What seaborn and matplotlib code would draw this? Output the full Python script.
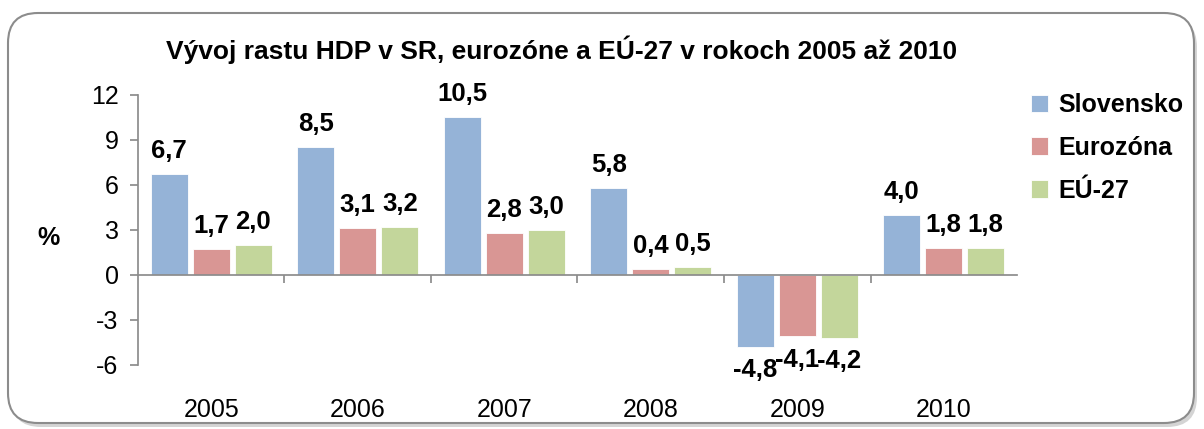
import pandas as pd
import matplotlib.pyplot as plt
import matplotlib.patches as mpatches
import matplotlib.transforms as mtransforms
import seaborn as sns

# ── Data ──────────────────────────────────────────────────────
roky = ['2005', '2006', '2007', '2008', '2009', '2010']
slovensko = [6.7, 8.5, 10.5, 5.8, -4.8, 4.0]
eurozona = [1.7, 3.1, 2.8, 0.4, -4.1, 1.8]
eu27 = [2.0, 3.2, 3.0, 0.5, -4.2, 1.8]
serie = ['Slovensko', 'Eurozóna', 'EÚ-27']
yticks = [-6, -3, 0, 3, 6, 9, 12]

colores = ['#95B3D7', '#D99694', '#C3D69B']

sns.set_theme(style='white')
plt.rcParams['font.family'] = ['Liberation Sans', 'DejaVu Sans']
plt.rcParams.update({'text.color': 'black', 'xtick.color': 'black', 'ytick.color': 'black'})

df = pd.DataFrame({
    'rok': roky * 3,
    'hodnota': slovensko + eurozona + eu27,
    'serie': [s for s in serie for _ in roky],
})

fig = plt.figure(figsize=(12.04, 4.29), dpi=100)

# rounded frame with a soft shadow
sombra = mpatches.FancyBboxPatch((0.11, 0.02), 11.86, 4.10,
                                 boxstyle='round,pad=0,rounding_size=0.3',
                                 transform=fig.dpi_scale_trans,
                                 facecolor='#d4d4d4', edgecolor='none', zorder=0)
marco = mpatches.FancyBboxPatch((0.08, 0.06), 11.86, 4.10,
                                boxstyle='round,pad=0,rounding_size=0.3',
                                transform=fig.dpi_scale_trans,
                                facecolor='white', edgecolor='#8c8c8c', lw=1.5, zorder=1)
fig.patches.extend([sombra, marco])

ax = fig.add_axes([0.1146, 0.1492, 0.7301, 0.6294])
ax.set_zorder(2)
ax.patch.set_alpha(0)

sns.barplot(data=df, x='rok', y='hodnota', hue='serie', order=roky, hue_order=serie,
            palette=colores, width=0.86, gap=0.12, saturation=1,
            edgecolor='white', linewidth=0.6, ax=ax)

for cont in ax.containers:
    etiquetas = [f'{b.get_height():.1f}'.replace('.', ',') for b in cont]
    ax.bar_label(cont, labels=etiquetas, padding=8, fontsize=18.5, fontweight='bold', color='black')

ax.set_xlim(-0.5, 5.5)
ax.set_ylim(-6, 12)
ax.set_yticks(yticks)
ax.set_yticklabels([str(v) for v in yticks], fontsize=18)
ax.set_xlabel('')
ax.set_ylabel('')

for s in ['top', 'right']:
    ax.spines[s].set_visible(False)
ax.spines['left'].set_color('#8c8c8c')
ax.spines['bottom'].set_color('#8c8c8c')
ax.spines['bottom'].set_position(('data', 0))
ax.tick_params(axis='y', which='major', direction='out', length=6, color='#8c8c8c', left=True, pad=8)

# category boundaries as ticks on the zero line, year labels at the bottom
ax.set_xticks([i + 0.5 for i in range(5)])
ax.set_xticklabels([])
ax.tick_params(axis='x', direction='out', length=6, color='#8c8c8c', bottom=True)
trans = mtransforms.blended_transform_factory(ax.transData, ax.transAxes)
for i, rok in enumerate(roky):
    ax.text(i, -0.167, rok, transform=trans, ha='center', va='center', fontsize=18)

fig.text(48 / 1204, 1 - 238 / 429, '%', ha='center', va='center', fontsize=18, fontweight='bold')
fig.text(562 / 1204, 1 - 50 / 429, 'Vývoj rastu HDP v SR, eurozóne a EÚ-27 v rokoch 2005 až 2010',
         ha='center', va='center', fontsize=19, fontweight='bold')

sns.move_legend(ax, loc='upper left', bbox_to_anchor=(0.99, 1.09), frameon=False, title=None,
                prop={'weight': 'bold', 'size': 18}, handlelength=0.7, handleheight=0.7,
                handletextpad=0.4, labelspacing=0.75)

fig.savefig('out.png', dpi=100)
